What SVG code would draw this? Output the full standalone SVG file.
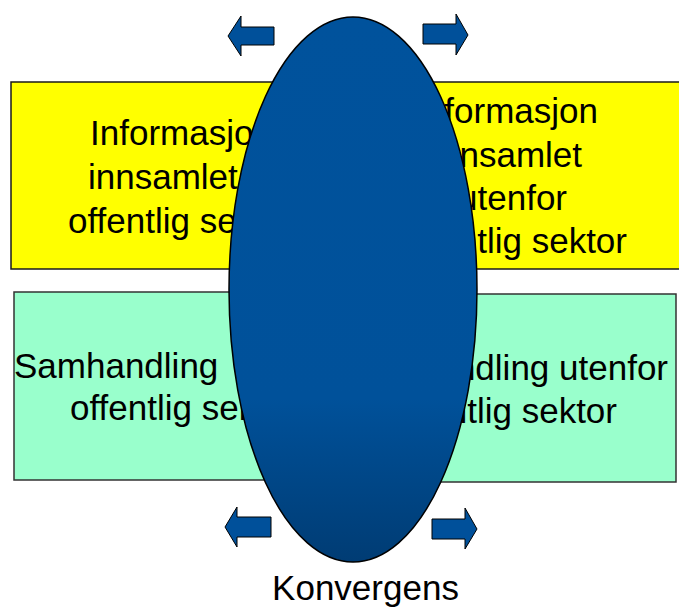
<svg xmlns="http://www.w3.org/2000/svg" width="679" height="612" viewBox="0 0 679 612">
<style>
.t{font-family:"Liberation Sans",Arial,sans-serif;font-size:35px;fill:#000}
.s{text-anchor:start}
.e{text-anchor:end}
.yb{fill:#FFFF00;stroke:#1a1a1a;stroke-width:1.5}
.gb{fill:#99FFCC;stroke:#333;stroke-width:1.5}
.ar{fill:#00509A;stroke:#000;stroke-width:1}
</style>
<defs>
<linearGradient id="eg" x1="0" y1="0" x2="0" y2="1">
<stop offset="0" stop-color="#00529C"/>
<stop offset="0.7" stop-color="#00519A"/>
<stop offset="1" stop-color="#003C74"/>
</linearGradient>
</defs>
<g id="box-info-offentlig">
<rect class="yb" x="11" y="82" width="340" height="187"/>
<text class="t s" x="90" y="145">Informasjon</text>
<text class="t s" x="88" y="189">innsamlet av</text>
<text class="t s" x="68" y="233">offentlig sektor</text>
</g>
<g id="box-info-utenfor">
<rect class="yb" x="355" y="82" width="340" height="187"/>
<text class="t e" x="598" y="123">Informasjon</text>
<text class="t e" x="582" y="167">innsamlet</text>
<text class="t e" x="567" y="210">utenfor</text>
<text class="t e" x="627" y="253">offentlig sektor</text>
</g>
<g id="box-samhandling-innenfor">
<rect class="gb" x="14" y="292" width="340" height="188"/>
<text class="t s" x="14" y="378">Samhandling</text>
<text class="t s" x="70" y="420">offentlig sektor</text>
</g>
<g id="box-samhandling-utenfor">
<rect class="gb" x="355" y="294" width="321" height="188"/>
<text class="t e" x="668" y="380">Samhandling utenfor</text>
<text class="t e" x="617" y="423">offentlig sektor</text>
</g>
<g id="konvergens">
<ellipse cx="353" cy="289.5" rx="124" ry="272.5" fill="url(#eg)" stroke="#000" stroke-width="1.5"/>
<text class="t" x="365.5" y="600" text-anchor="middle">Konvergens</text>
</g>
<g id="connectors">
<polygon class="ar" points="228,36 241,16 241,27 274,27 274,45 241,45 241,56"/>
<polygon class="ar" points="468,35 456,14 456,24 423,24 423,44 456,44 456,55"/>
<polygon class="ar" points="225,527 237,507 237,517 271,517 271,537 237,537 237,547"/>
<polygon class="ar" points="477,529 465,508 465,519 432,519 432,539 465,539 465,549"/>
</g>
</svg>
